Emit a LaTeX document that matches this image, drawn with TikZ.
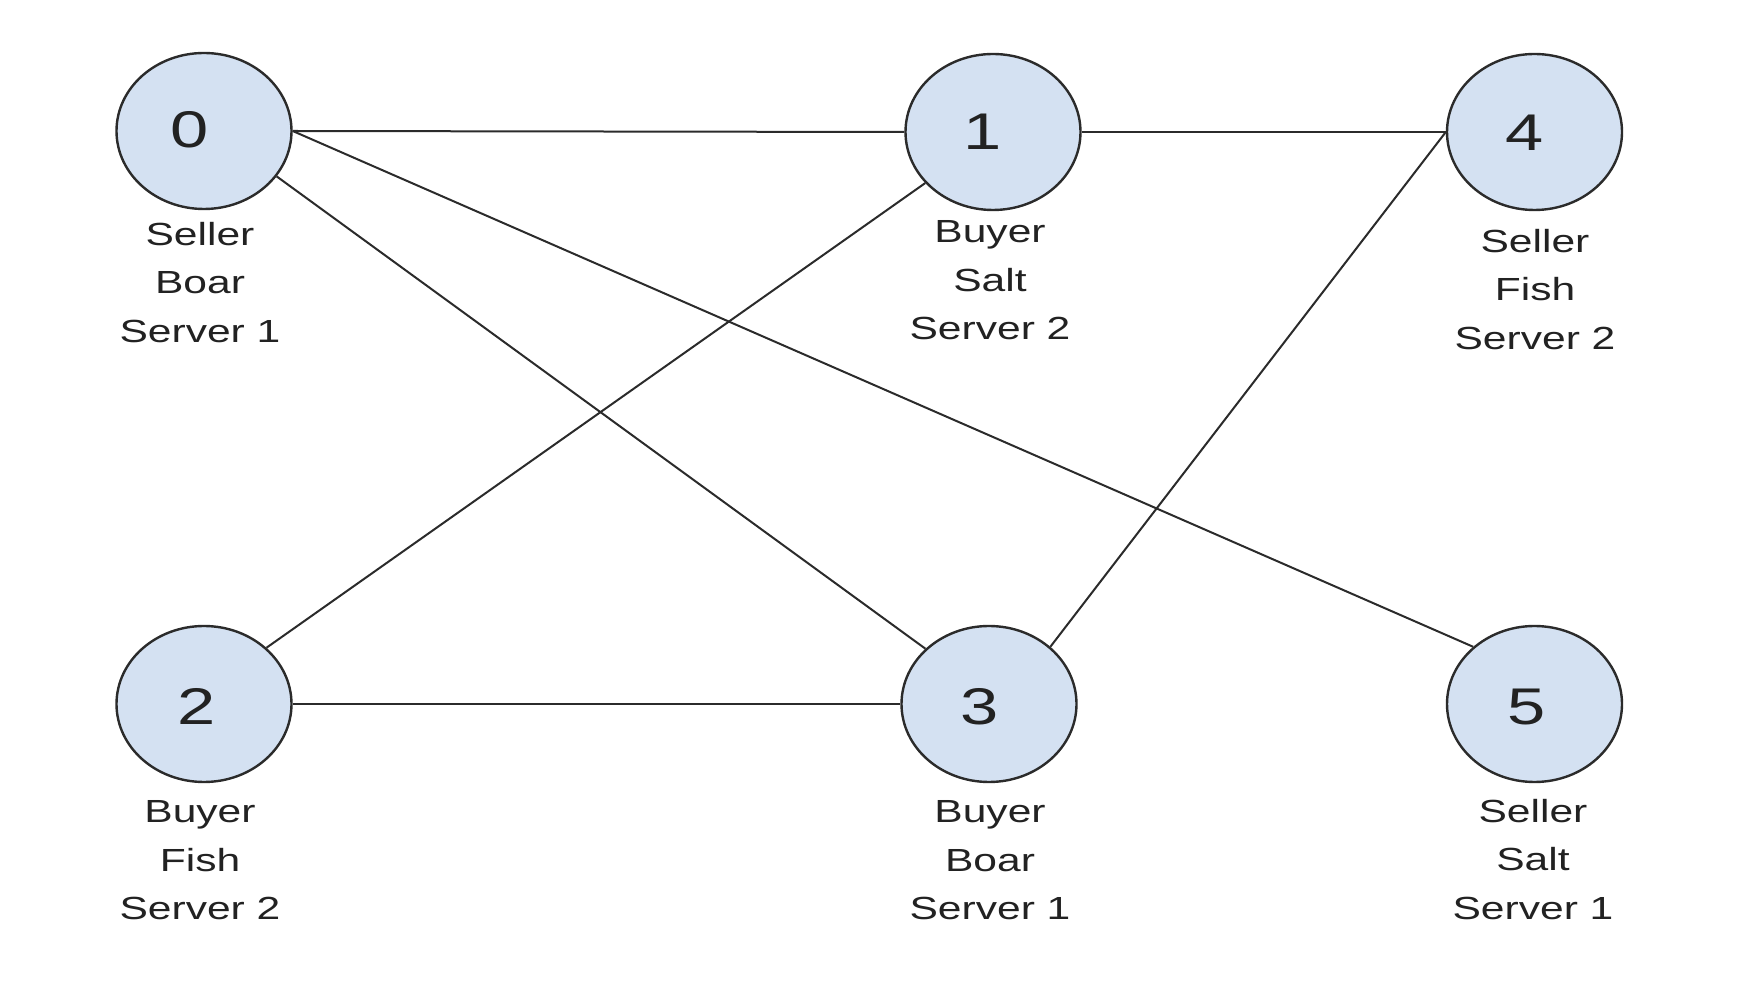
\documentclass[tikz,border=0pt]{standalone}
\usepackage{fontspec}
\setmainfont{Liberation Sans}
\newfontfamily\stretchfont[FakeStretch=1.33]{Liberation Sans}
\usetikzlibrary{shapes.geometric}
\definecolor{nodefill}{HTML}{D4E1F2}
\definecolor{linecol}{HTML}{2B2B2B}
\definecolor{textcol}{HTML}{222222}
\begin{document}
\begin{tikzpicture}[x=0.5pt,y=-0.5pt,
  vert/.style={ellipse, draw=linecol, line width=1.2pt, fill=nodefill,
    minimum width=87.5pt, minimum height=78pt, inner sep=0pt},
  num/.style={inner sep=0pt, text=textcol, font=\stretchfont\fontsize{25.8}{30}\selectfont},
  lbl/.style={anchor=north, inner sep=0pt, align=center, text=textcol,
    font=\stretchfont\fontsize{16}{24.25}\selectfont},
  edge/.style={draw=linecol, line width=1pt}]
\useasboundingbox (0,0) rectangle (1756,1004);
% vertices
\node[vert] (n0) at (204,131) {};
\node[vert] (n1) at (993,132) {};
\node[vert] (n4) at (1534.5,132) {};
\node[vert] (n2) at (204,704) {};
\node[vert] (n3) at (989,704) {};
\node[vert] (n5) at (1534.5,704) {};
% numbers
\node[num] (t0) at (190,130) {0};
\node[num] (t1) at (983,132) {1};
\node[num] (t4) at (1525,133) {4};
\node[num] (t2) at (197,706) {2};
\node[num] (t3) at (980,707) {3};
\node[num] (t5) at (1527,707) {5};
% labels
\node[lbl] (l0) at (200,221.5) {Seller\\Boar\\Server 1};
\node[lbl] (l1) at (990,220.5) {Buyer\\Salt\\Server 2};
\node[lbl] (l4) at (1535,228.5) {Seller\\Fish\\Server 2};
\node[lbl] (l2) at (200,800.5) {Buyer\\Fish\\Server 2};
\node[lbl] (l3) at (990,800.5) {Buyer\\Boar\\Server 1};
\node[lbl] (l5) at (1533,798.5) {Seller\\Salt\\Server 1};
% edges
\draw[edge] (n0.east) -- (n1.west);
\draw[edge] (n1.east) -- (n4.west);
\draw[edge] (n2.east) -- (n3.west);
\draw[edge] (n0.-32) -- (n3.139);
\draw[edge] (n0.east) -- (n5.137);
\draw[edge] (n1.-143) -- (n2.42);
\draw[edge] (n3.43) -- (n4.west);
\end{tikzpicture}
\end{document}
